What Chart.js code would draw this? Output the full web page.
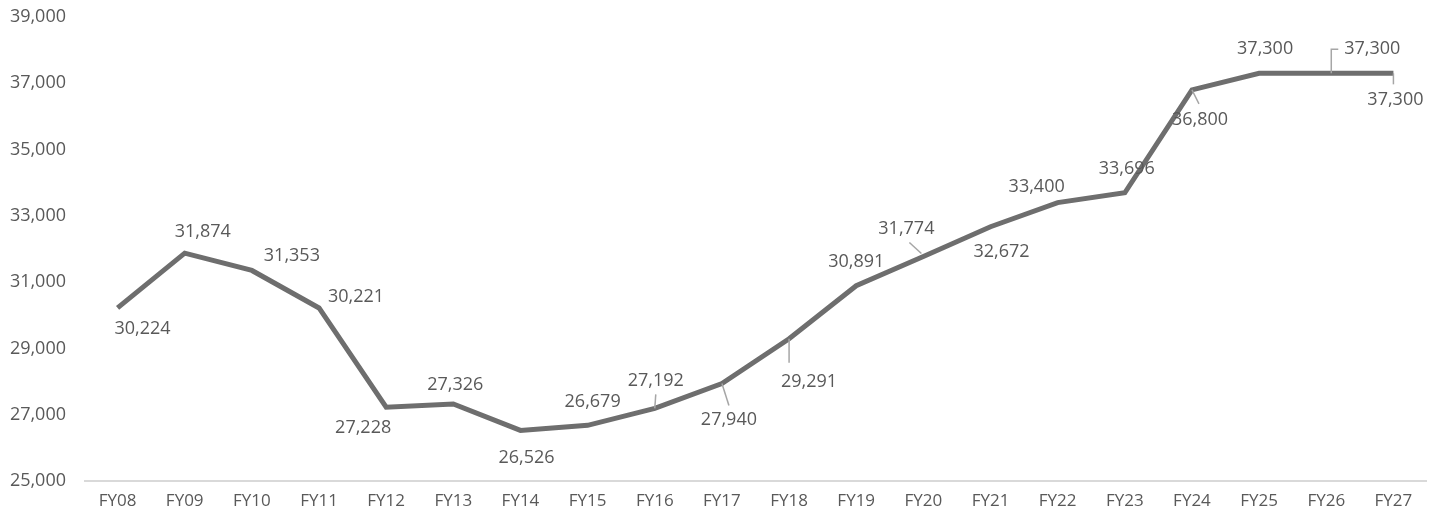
<!DOCTYPE html>
<html>
<head>
<meta charset="utf-8">
<script src="https://cdn.jsdelivr.net/npm/chart.js@4"></script>
<style>
  html, body { margin: 0; padding: 0; background: #fff; }
  #wrap { width: 1442px; height: 523px; }
</style>
</head>
<body>
<div id="wrap"><canvas id="chart"></canvas></div>
<script>
const years = ['FY08', 'FY09', 'FY10', 'FY11', 'FY12', 'FY13', 'FY14', 'FY15', 'FY16', 'FY17',
  'FY18', 'FY19', 'FY20', 'FY21', 'FY22', 'FY23', 'FY24', 'FY25', 'FY26', 'FY27']
const values = [30224, 31874, 31353, 30221, 27228, 27326, 26526, 26679, 27192, 27940,
  29291, 30891, 31774, 32672, 33400, 33696, 36800, 37300, 37300, 37300]
const yTicks = [25000, 27000, 29000, 31000, 33000, 35000, 37000, 39000]

// where each data label sits relative to its point (px)
const labelOffsets = [
  [25, 21], [18, -21], [40, -15], [37, -11], [-23, 21], [2, -19], [6, 27], [5, -23], [1, -27], [7, 36],
  [20, 43], [0, -24], [-17, -28], [11, 25], [-21, -16], [2, -24], [8, 30], [6, -24], [46, -24], [2, 27]
]
// leader lines: points relative to the data point
const leaders = {
  8: [[0, 0], [1, -14]],
  9: [[0, 0], [7, 22]],
  10: [[0, 0], [0, 24]],
  12: [[-2, -3], [-14, -14]],
  16: [[0, 0], [7, 14]],
  18: [[5, 0], [5, -24], [12, -24]],
  19: [[0, 0], [0, 11]]
}

const dataLabelsPlugin = {
  id: 'dataLabels',
  afterDatasetsDraw: (chart) => {
    const { ctx } = chart
    const meta = chart.getDatasetMeta(0)
    ctx.save()
    ctx.strokeStyle = '#a6a6a6'
    ctx.lineWidth = 1.5
    Object.keys(leaders).forEach(i => {
      const pt = meta.data[i]
      const pts = leaders[i]
      ctx.beginPath()
      ctx.moveTo(pt.x + pts[0][0], pt.y + pts[0][1])
      for (let k = 1; k < pts.length; k++) ctx.lineTo(pt.x + pts[k][0], pt.y + pts[k][1])
      ctx.stroke()
    })
    ctx.fillStyle = '#595959'
    ctx.font = '18px "Open Sans", sans-serif'
    ctx.textAlign = 'center'
    ctx.textBaseline = 'middle'
    meta.data.forEach((pt, i) => {
      const [dx, dy] = labelOffsets[i]
      ctx.fillText(values[i].toLocaleString('en-US'), pt.x + dx, pt.y + dy)
    })
    ctx.restore()
  }
}

new Chart(document.getElementById('chart'), {
  type: 'line',
  data: {
    labels: years,
    datasets: [{
      data: values,
      borderColor: '#6e6e6e',
      borderWidth: 5,
      pointRadius: 0,
      tension: 0,
      fill: false
    }]
  },
  options: {
    responsive: true,
    maintainAspectRatio: false,
    animation: false,
    layout: { padding: { top: 17, right: 15, left: 0, bottom: 0 } },
    plugins: {
      legend: { display: false },
      tooltip: { enabled: false }
    },
    scales: {
      x: {
        offset: true,
        grid: { display: false, drawTicks: false },
        border: { display: false },
        ticks: {
          color: '#595959',
          font: { family: '"Open Sans", sans-serif', size: 17 },
          padding: 10,
          maxRotation: 0,
          autoSkip: false
        },
        afterFit: (axis) => { axis.height = 42 }
      },
      y: {
        min: 25000,
        max: 39000,
        afterBuildTicks: (axis) => { axis.ticks = yTicks.map(v => ({ value: v })) },
        grid: {
          drawTicks: false,
          color: (c) => c.tick && c.tick.value === 25000 ? '#d9d9d9' : 'rgba(0,0,0,0)',
          lineWidth: 2
        },
        border: { display: false },
        ticks: {
          color: '#595959',
          font: { family: '"Open Sans", sans-serif', size: 18 },
          padding: 18,
          callback: (v) => v.toLocaleString('en-US')
        },
        afterFit: (axis) => {
          axis.width = 84
          axis.paddingTop = 0
          axis.paddingBottom = 0
        }
      }
    }
  },
  plugins: [dataLabelsPlugin]
})
</script>
</body>
</html>
